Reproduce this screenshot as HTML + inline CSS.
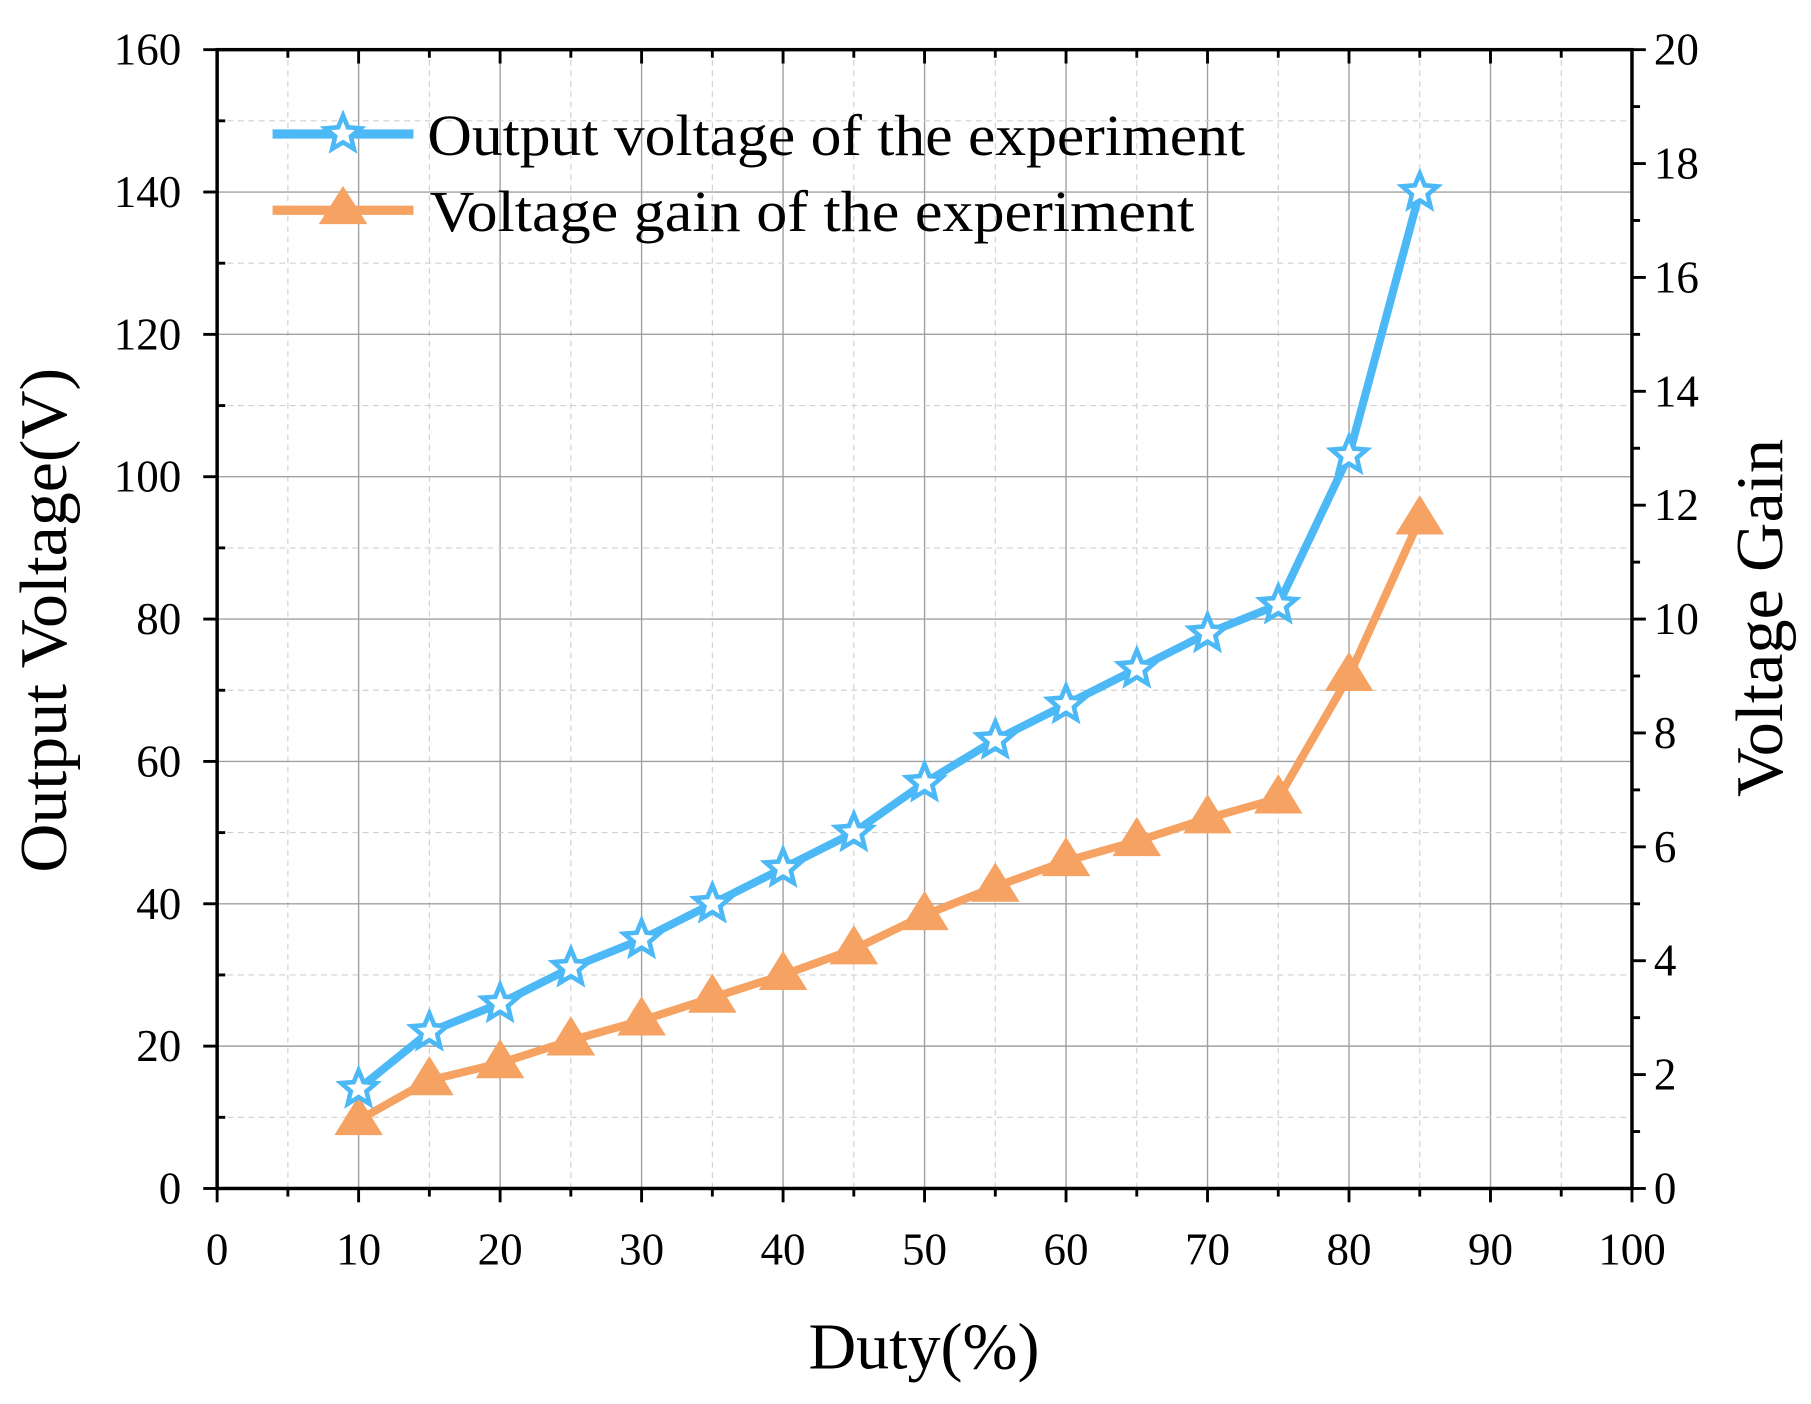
<!DOCTYPE html>
<html><head><meta charset="utf-8"><style>
html,body{margin:0;padding:0;background:#fff}
svg{display:block}
text{font-family:"Liberation Serif",serif;fill:#000}
</style></head><body>
<svg id="chart" width="1811" height="1404" viewBox="0 0 1568 1215.6" preserveAspectRatio="none" xmlns="http://www.w3.org/2000/svg">
<g id="grid"></g>
<g id="axes"></g>
<g id="series"></g>
<text transform="translate(57,537) rotate(-90)" text-anchor="middle" font-size="58" textLength="437" lengthAdjust="spacingAndGlyphs">Output Voltage(V)</text>
<text transform="translate(1543,535) rotate(-90)" text-anchor="middle" font-size="58" textLength="310" lengthAdjust="spacingAndGlyphs">Voltage Gain</text>
<text x="800" y="1185" text-anchor="middle" font-size="57" textLength="200" lengthAdjust="spacingAndGlyphs">Duty(%)</text>
<g>
 <g>
  <line x1="236" y1="116" x2="358" y2="116" stroke="#4cb9f6" stroke-width="8"/>
  <polygon id="legStar" fill="#fff" stroke="#4cb9f6" stroke-width="4"/>
  <text x="370" y="134" font-size="50" textLength="708" lengthAdjust="spacingAndGlyphs">Output voltage of the experiment</text>
 </g>
 <g>
  <line x1="236" y1="182" x2="358" y2="182" stroke="#f5a262" stroke-width="8"/>
  <polygon points="297,161 276,194 318,194" fill="#f5a262"/>
  <text x="372" y="200" font-size="50" textLength="662" lengthAdjust="spacingAndGlyphs">Voltage gain of the experiment</text>
 </g>
</g>
</svg>
<script>
const duty=[10,15,20,25,30,35,40,45,50,55,60,65,70,75,80,85];
const voltage=[14,22,26,31,35,40,45,50,57,63,68,73,78,82,103,140];
const gain=[1.2,1.9,2.2,2.6,2.95,3.35,3.75,4.2,4.8,5.3,5.75,6.1,6.5,6.85,9.0,11.75];
const xTicks=[0,10,20,30,40,50,60,70,80,90,100];
const yTicks=[0,20,40,60,80,100,120,140,160];
const y2Ticks=[0,2,4,6,8,10,12,14,16,18,20];

const L=188,R=1413,T=43,B=1029;
const sx=v=>L+(v-0)/100*(R-L);
const sy=v=>B-v/160*(B-T);
const sy2=v=>B-v/20*(B-T);
const NS="http://www.w3.org/2000/svg";
function mk(tag,attrs,parent){const e=document.createElementNS(NS,tag);for(const k in attrs)e.setAttribute(k,attrs[k]);parent.appendChild(e);return e;}
const grid=document.getElementById('grid'),axes=document.getElementById('axes'),series=document.getElementById('series');

for(let v=5;v<100;v+=5){const major=v%10===0;
 const l=mk('line',{x1:sx(v),x2:sx(v),y1:T,y2:B,stroke:major?'#a0a0a0':'#d0d0d0','stroke-width':major?1.2:1,'stroke-dasharray':major?'none':'5,4'},grid);
 
 }
for(let v=10;v<160;v+=10){const major=v%20===0;
 const l=mk('line',{x1:L,x2:R,y1:sy(v),y2:sy(v),stroke:major?'#a0a0a0':'#d0d0d0','stroke-width':major?1.2:1,'stroke-dasharray':major?'none':'5,4'},grid);
 
 }

mk('rect',{x:L,y:T,width:R-L,height:B-T,fill:'none',stroke:'#000','stroke-width':3},axes);
for(let v=0;v<=100;v+=5){const major=v%10===0;mk('line',{x1:sx(v),x2:sx(v),y1:B,y2:B+(major?12:7),stroke:'#000','stroke-width':2.5},axes);mk('line',{x1:sx(v),x2:sx(v),y1:T,y2:T+(major?12:7),stroke:'#000','stroke-width':2.5},axes);}
for(let v=0;v<=160;v+=10){const major=v%20===0;mk('line',{x1:L-(major?12:0),x2:L+(major?0:7),y1:sy(v),y2:sy(v),stroke:'#000','stroke-width':2.5},axes);}
for(let v=0;v<=20;v+=1){const major=v%2===0;mk('line',{x1:R,x2:R+(major?12:7),y1:sy2(v),y2:sy2(v),stroke:'#000','stroke-width':2.5},axes);}
xTicks.forEach(v=>{const t=mk('text',{x:sx(v),y:1095,'text-anchor':'middle','font-size':39},axes);t.textContent=v;
 
 });
yTicks.forEach(v=>{const t=mk('text',{x:157,y:sy(v)+13,'text-anchor':'end','font-size':39},axes);t.textContent=v;
 
 });
y2Ticks.forEach(v=>{const t=mk('text',{x:1432,y:sy2(v)+13,'text-anchor':'start','font-size':39},axes);t.textContent=v;
 
 });

function starPts(cx,cy,r){let p=[];for(let i=0;i<10;i++){const a=-Math.PI/2+i*Math.PI/5;const rr=i%2?r*0.45:r;p.push((cx+rr*Math.cos(a)).toFixed(1)+','+(cy+rr*Math.sin(a)).toFixed(1));}return p.join(' ');}
document.getElementById('legStar').setAttribute('points',starPts(297,116,16));

const gp=duty.map((d,i)=>sx(d)+','+sy2(gain[i])).join(' ');
const gl=mk('polyline',{points:gp,fill:'none',stroke:'#f5a262','stroke-width':7,'stroke-linejoin':'round'},series);


duty.forEach((d,i)=>{const x=sx(d),y=sy2(gain[i]);
 const m=mk('polygon',{points:`${x},${y-21} ${x-21},${y+13} ${x+21},${y+13}`,fill:'#f5a262'},series);
 
 });

const vp=duty.map((d,i)=>sx(d)+','+sy(voltage[i])).join(' ');
const vl=mk('polyline',{points:vp,fill:'none',stroke:'#4cb9f6','stroke-width':7,'stroke-linejoin':'round'},series);


duty.forEach((d,i)=>{const x=sx(d),y=sy(voltage[i]);
 const m=mk('polygon',{points:starPts(x,y,16),fill:'#fff',stroke:'#4cb9f6','stroke-width':4},series);
 
 });
</script>
</body></html>
